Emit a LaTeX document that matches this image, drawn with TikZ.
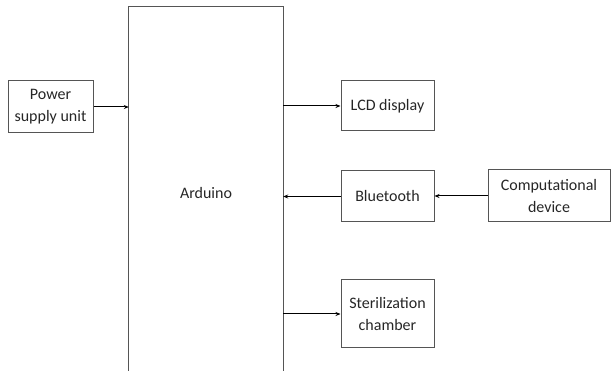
\documentclass[tikz,border=0pt]{standalone}
\usepackage{fontspec}
\setmainfont{Carlito}
\usetikzlibrary{arrows.meta}
\definecolor{boxgray}{HTML}{555555}
\tikzset{
  txt/.style={font=\fontsize{16pt}{22pt}\selectfont, text=black!85},
  blk/.style={draw=boxgray, line width=1pt, inner sep=0pt, align=center, txt},
  arr/.style={-{Stealth[length=5pt,width=4pt]}, line width=1pt, black}
}
\begin{document}
\begin{tikzpicture}[x=1pt,y=-1pt]
\useasboundingbox (0,0) rectangle (611,371);
\node[blk, minimum width=85pt, minimum height=52pt] (psu) at (50.5,107) {Power\\supply unit};
\node[inner sep=0pt, minimum width=154pt, minimum height=373pt, txt] (ard) at (206,193.5) {Arduino};
\draw[boxgray, line width=1pt] (ard.south west) -- (ard.north west) -- (ard.north east) -- (ard.south east);
\node[blk, minimum width=93pt, minimum height=50pt] (lcd) at (387.5,106) {LCD display};
\node[blk, minimum width=93pt, minimum height=51pt] (bt) at (387.5,196.5) {Bluetooth};
\node[blk, minimum width=122pt, minimum height=52pt] (comp) at (549,196) {Computational\\device};
\node[blk, minimum width=93pt, minimum height=68pt] (ster) at (387.5,314) {Sterilization\\chamber};
\draw[arr] (psu.east) -- (psu.east -| ard.west);
\draw[arr] (lcd.west -| ard.east) -- (lcd.west);
\draw[arr] (bt.west) -- (bt.west -| ard.east);
\draw[arr] (comp.west) -- (comp.west -| bt.east);
\draw[arr] (ster.west -| ard.east) -- (ster.west);
\end{tikzpicture}
\end{document}
